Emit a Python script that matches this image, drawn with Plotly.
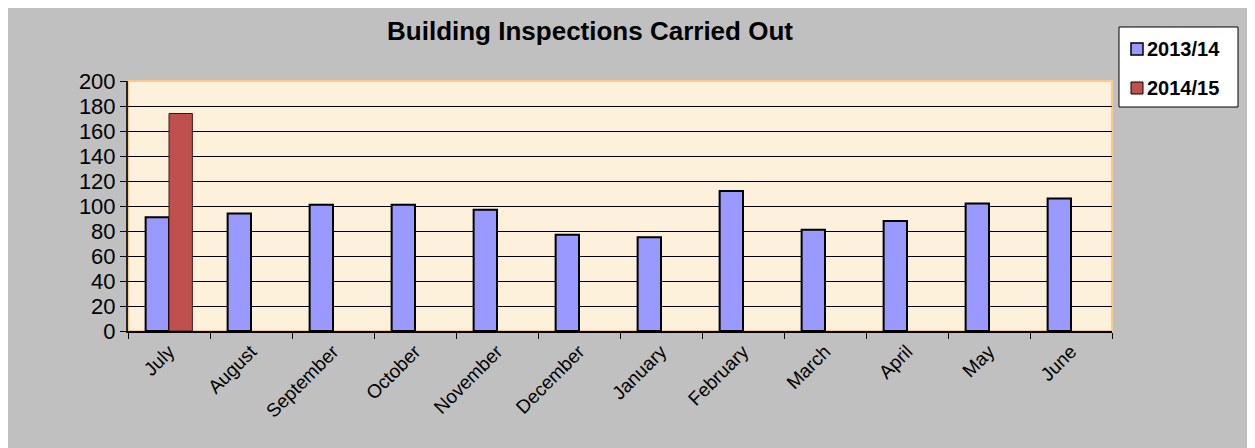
import plotly.graph_objects as go

# Monthly building inspections
months = ['July', 'August', 'September', 'October', 'November', 'December',
          'January', 'February', 'March', 'April', 'May', 'June']
inspections_1314 = [91, 94, 101, 101, 97, 77, 75, 112, 81, 88, 102, 106]
inspections_1415 = [174, None, None, None, None, None, None, None, None, None, None, None]
series_names = ['2013/14', '2014/15']
series_colors = ['#9999ff', '#c0504d']

# page body has an 8px margin, so work in page pixels and shift
OFF = 8
W, H = 1255 - OFF, 448 - OFF
L, T = 128 - OFF, 81 - OFF
R = W - (1112 - OFF)
B = H - (331 - OFF)
pw, ph = W - L - R, H - T - B


def px_x(p):
    # page pixel -> paper x
    return (p - OFF - L) / pw


def px_y(p):
    # page pixel -> paper y
    return (H - B - (p - OFF)) / ph


fig = go.Figure()

fig.add_trace(go.Bar(
    x=months, y=inspections_1314, name=series_names[0],
    marker=dict(color=series_colors[0], line=dict(color='black', width=2)),
))
fig.add_trace(go.Bar(
    x=months, y=inspections_1415, name=series_names[1],
    marker=dict(color=series_colors[1], line=dict(color='#3a1a1a', width=1)),
))

# outer chart border (only top and left visible in the frame)
fig.add_shape(type='rect', xref='paper', yref='paper',
              x0=px_x(7), x1=px_x(1300), y0=px_y(500), y1=px_y(3),
              line=dict(color='black', width=2), fillcolor='rgba(0,0,0,0)',
              layer='below')
# orange-ish plot-area border (top/right)
fig.add_shape(type='rect', xref='paper', yref='paper',
              x0=0, x1=1, y0=0, y1=1,
              line=dict(color='#fcc890', width=2), fillcolor='rgba(0,0,0,0)',
              layer='below')

# Excel-style legend box, drawn by hand so it stays compact
fig.add_shape(type='rect', xref='paper', yref='paper',
              x0=px_x(1119), x1=px_x(1238), y0=px_y(107), y1=px_y(27),
              line=dict(color='black', width=1), fillcolor='white')
for i, (name, col) in enumerate(zip(series_names, series_colors)):
    cy = 49 + i * 39
    fig.add_shape(type='rect', xref='paper', yref='paper',
                  x0=px_x(1131), x1=px_x(1143), y0=px_y(cy + 6), y1=px_y(cy - 6),
                  line=dict(color='black', width=1.5 if i == 0 else 1), fillcolor=col)
    fig.add_annotation(xref='paper', yref='paper', x=px_x(1145), y=px_y(cy),
                       xanchor='left', yanchor='middle', showarrow=False,
                       text='<b>' + name + '</b>',
                       font=dict(size=20, color='black'))

fig.update_layout(
    width=W, height=H,
    margin=dict(l=L, r=R, t=T, b=B),
    paper_bgcolor='#c0c0c0',
    plot_bgcolor='#fdf1dc',
    barmode='group',
    bargap=0.43,
    bargroupgap=0,
    font=dict(family='Arial, Liberation Sans, sans-serif', color='black'),
    title=dict(text='<b>Building Inspections Carried Out</b>',
               x=(590 - OFF) / W, xanchor='center',
               y=1 - (31 - OFF) / H, yanchor='middle',
               font=dict(size=26, color='black')),
    showlegend=False,
)

fig.update_yaxes(
    range=[0, 200], dtick=20, showgrid=True, gridcolor='black', gridwidth=1,
    ticks='outside', ticklen=6, tickcolor='black',
    showline=True, linecolor='#222222', linewidth=2,
    tickfont=dict(size=22, color='black'), zeroline=False
)
fig.update_xaxes(
    tickangle=-45, tickfont=dict(size=19, color='black'),
    ticks='outside', ticklen=6, tickcolor='black', tickson='boundaries',
    showline=True, linecolor='black', linewidth=2
)

fig.write_html('out.html')
